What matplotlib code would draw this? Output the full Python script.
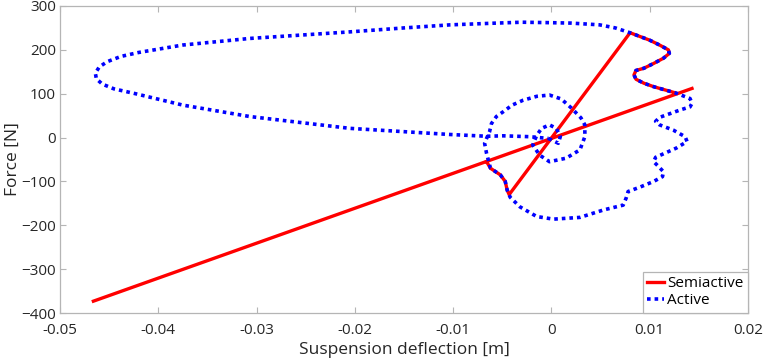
import matplotlib
matplotlib.use("Agg")
import matplotlib.pyplot as plt
import numpy as np

plt.rcParams['font.family'] = ['Open Sans', 'DejaVu Sans']

# semiactive force path (two pieces)
semi_x1 = [-0.0466, 0.0143]
semi_y1 = [-373, 112]
semi_x2 = [0.0126, 0.0104, 0.0094, 0.0086, 0.0084, 0.0086, 0.0094, 0.0104, 0.0114,
           0.0120, 0.0119, 0.0110, 0.0100, 0.0080,
           -0.0043, -0.0045, -0.0047, -0.0052, -0.0062, -0.0066]
semi_y2 = [102, 116, 124, 133, 143, 153, 158, 169, 181,
           192, 200, 211, 222, 239,
           -130, -120, -100, -85, -70, -55]

# active force path
act_x = [-0.0003, 0.0007, 0.0009, 0.0005, -0.0002, -0.0010, -0.0015, -0.0019,
         -0.0012, -0.0002, 0.0015, 0.0029, 0.0034, 0.0034, 0.0030, 0.0020,
         0.0010, -0.0002, -0.0015, -0.0029, -0.0040, -0.0049, -0.0056, -0.0061,
         -0.0063, -0.0066, -0.0068,
         -0.0066, -0.0062, -0.0052, -0.0047, -0.0045, -0.0042, -0.0032, -0.0015,
         0.0002, 0.0029, 0.0053, 0.0073, 0.0076, 0.0078, 0.0090, 0.0104,
         0.0113, 0.0114, 0.0109, 0.0104, 0.0106, 0.0127, 0.0138, 0.0136, 0.0124,
         0.0110, 0.0106, 0.0110, 0.0131, 0.0141, 0.0143, 0.0141, 0.0126, 0.0104,
         0.0094, 0.0086, 0.0084, 0.0086, 0.0094, 0.0104, 0.0114, 0.0120, 0.0119,
         0.0110, 0.0100, 0.0080, 0.0065, 0.0049,
         0.0020, -0.0002, -0.0030, -0.0056, -0.0103, -0.0150, -0.0205, -0.0307,
         -0.0375, -0.0420, -0.0438, -0.0452, -0.0460, -0.0464, -0.0463, -0.0457,
         -0.0445, -0.0425, -0.0375, -0.0307,
         -0.0205, -0.0103, -0.0066, -0.0049, -0.0022, -0.0003]
act_y = [-2, -13, 2, 21, 29, 21, 5, -17,
         -40, -55, -47, -28, 2, 29, 45, 68,
         88, 97, 94, 85, 74, 59, 48, 32,
         13, -2, -13,
         -36, -70, -85, -100, -120, -136, -158, -180,
         -186, -182, -165, -154, -138, -123, -113, -100,
         -89, -78, -66, -55, -45, -24, -9, 2, 17,
         29, 37, 46, 63, 70, 78, 89, 102, 116,
         124, 133, 143, 153, 158, 169, 181, 192, 200,
         211, 222, 239, 250, 257,
         261, 262, 263, 261, 257, 250, 241, 226,
         211, 194, 185, 173, 161, 147, 134, 122,
         111, 101, 74, 48,
         21, 7, 3, 4, 2, -2]

xticks = [-0.05, -0.04, -0.03, -0.02, -0.01, 0, 0.01, 0.02]
xticklabels = ['-0.05', '-0.04', '-0.03', '-0.02', '-0.01', '0', '0.01', '0.02']
yticks = [-400, -300, -200, -100, 0, 100, 200, 300]

fig = plt.figure(figsize=(7.65, 3.63), dpi=100)
ax = fig.add_axes([0.0784, 0.1377, 0.8994, 0.8458])

x2 = semi_x1 + [np.nan] + semi_x2
y2 = semi_y1 + [np.nan] + semi_y2
ax.plot(x2, y2, color='#ff0000', lw=2.4, label='Semiactive', zorder=2)
ax.plot(act_x, act_y, color='#0000ff', lw=2.6, linestyle=(0, (1, 1.1)),
        label='Active', zorder=3)

ax.set_xlim(-0.05, 0.02)
ax.set_ylim(-400, 300)
ax.set_xticks(xticks)
ax.set_xticklabels(xticklabels)
ax.set_yticks(yticks)

for s in ax.spines.values():
    s.set_color('#b5b5b5')
    s.set_linewidth(0.9)
ax.tick_params(direction='in', length=4, color='#b5b5b5', labelsize=11,
               labelcolor='#262626', top=True, right=True)
ax.tick_params(axis='x', pad=7)
ax.tick_params(axis='y', pad=3)

ax.set_xlabel('Suspension deflection [m]', fontsize=12.5, color='#262626', labelpad=3)
ax.set_ylabel('Force [N]', fontsize=12.5, color='#262626', labelpad=0)

leg = ax.legend(loc='lower right', borderaxespad=0, fancybox=False,
                fontsize=11, handlelength=1.1, handletextpad=0.2,
                borderpad=0.3, labelspacing=0.15, framealpha=1)
leg.get_frame().set_edgecolor('#b5b5b5')
leg.get_frame().set_linewidth(0.9)

fig.savefig('out.png', dpi=100)
